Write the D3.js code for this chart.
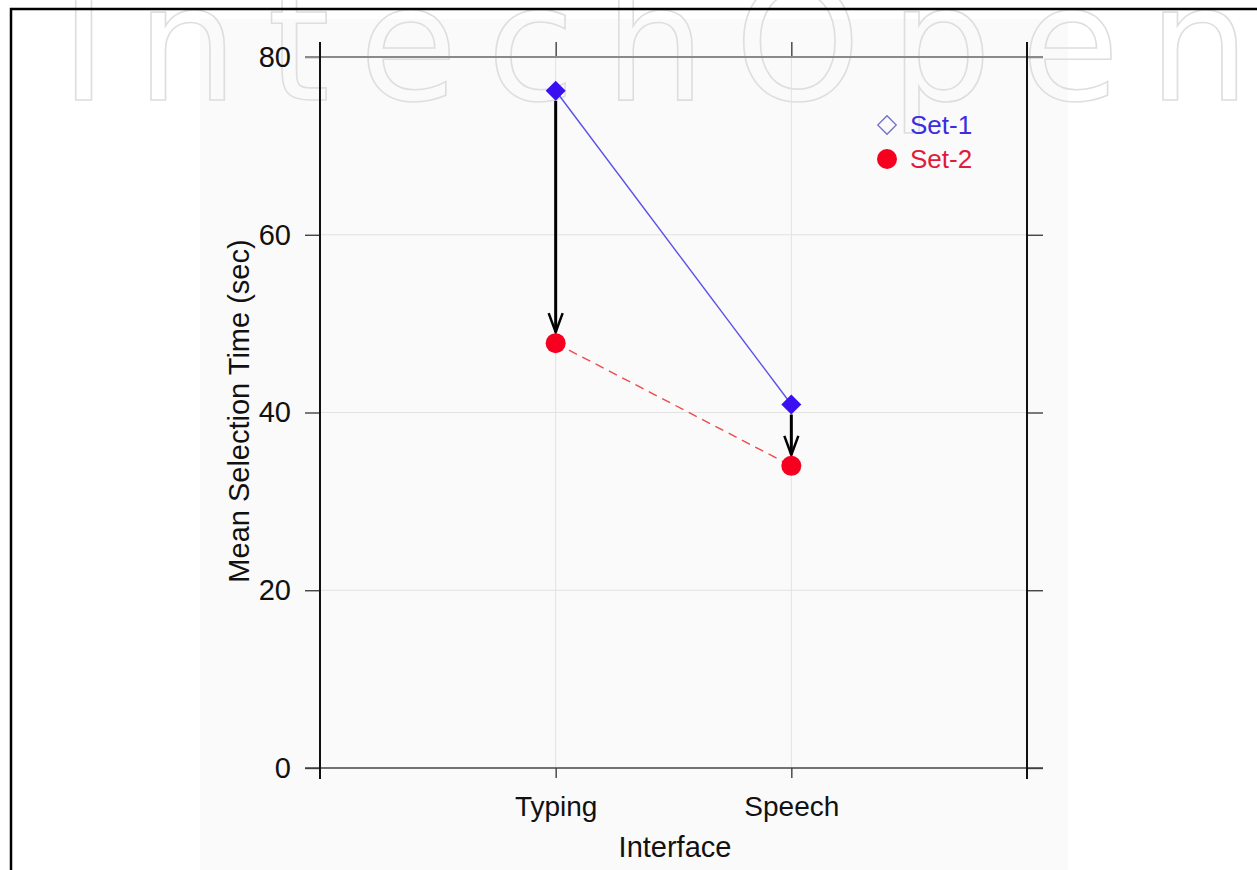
<!DOCTYPE html>
<html>
<head>
<meta charset="utf-8">
<script src="https://cdn.jsdelivr.net/npm/d3@7"></script>
<style>
  body { margin: 0; background: #fff; }
  svg text { font-family: "Liberation Sans", Arial, sans-serif; }
</style>
</head>
<body>
<div id="chart"></div>
<script>
// data
var categories = ["Typing", "Speech"];
var set1 = [76.2, 40.9];
var set2 = [47.8, 34.0];
var seriesNames = ["Set-1", "Set-2"];
var yTicks = [0, 20, 40, 60, 80];

var W = 1257, H = 870;

var svg = d3.select("#chart")
    .append("svg")
    .attr("width", W)
    .attr("height", H);

// gray plot panel
svg.append("rect")
    .attr("x", 200).attr("y", 19)
    .attr("width", 868).attr("height", H - 19)
    .style("fill", "#fafafa");

// watermark (faint outline lettering across the top)
svg.append("text")
    .attr("x", 60).attr("y", 100)
    .attr("font-size", 160)
    .attr("textLength", 1190)
    .attr("lengthAdjust", "spacing")
    .style("font-family", "'DejaVu Sans', sans-serif")
    .style("fill", "none")
    .style("stroke", "#dedede")
    .style("stroke-width", 1.6)
    .text("IntechOpen");

// outer frame
svg.append("rect")
    .attr("x", 11).attr("y", 9)
    .attr("width", W).attr("height", H)
    .style("fill", "none")
    .style("stroke", "#000")
    .style("stroke-width", 2.5);

// scales: categories sit at 1 and 2 on a 0..3 axis
var x = d3.scaleLinear().domain([0, 3]).range([320, 1027]);
var y = d3.scaleLinear().domain([0, 80]).range([768, 57]);

// grid
svg.append("g")
    .selectAll("line")
    .data([20, 40, 60])
    .enter()
    .append("line")
    .attr("x1", x(0)).attr("x2", x(3))
    .attr("y1", d => y(d)).attr("y2", d => y(d))
    .style("stroke", "#e2e2e2");

svg.append("g")
    .selectAll("line")
    .data(categories)
    .enter()
    .append("line")
    .attr("x1", (d, i) => x(i + 1)).attr("x2", (d, i) => x(i + 1))
    .attr("y1", y(80)).attr("y2", y(0))
    .style("stroke", "#e2e2e2");

// left axis
var leftAx = svg.append("g")
    .attr("transform", "translate(" + x(0) + ",0)")
    .call(d3.axisLeft(y).tickValues(yTicks).tickSize(15).tickPadding(14));
leftAx.select(".domain").remove();
leftAx.selectAll(".tick line").style("stroke", "#333").style("stroke-width", 1.3);
leftAx.selectAll(".tick text").attr("font-size", 29).style("fill", "#111");

// right ticks
var rightAx = svg.append("g")
    .attr("transform", "translate(" + x(3) + ",0)")
    .call(d3.axisRight(y).tickValues(yTicks).tickSize(16).tickFormat(""));
rightAx.select(".domain").remove();
rightAx.selectAll(".tick line").style("stroke", "#333").style("stroke-width", 1.3);

// bottom axis
var bottomAx = svg.append("g")
    .attr("transform", "translate(0," + y(0) + ")")
    .call(d3.axisBottom(x).tickValues([1, 2]).tickSize(10).tickPadding(18)
        .tickFormat(d => categories[d - 1]));
bottomAx.select(".domain").remove();
bottomAx.selectAll(".tick line").style("stroke", "#333").style("stroke-width", 1.3);
bottomAx.selectAll(".tick text").attr("font-size", 28).style("fill", "#111");

// top ticks
var topAx = svg.append("g")
    .attr("transform", "translate(0," + y(80) + ")")
    .call(d3.axisTop(x).tickValues([1, 2]).tickSize(15).tickFormat(""));
topAx.select(".domain").remove();
topAx.selectAll(".tick line").style("stroke", "#333").style("stroke-width", 1.3);

// frame lines
svg.append("line")
    .attr("x1", 305).attr("x2", 1043)
    .attr("y1", y(80)).attr("y2", y(80))
    .style("stroke", "#8a8a8a").style("stroke-width", 2);
svg.append("line")
    .attr("x1", 305).attr("x2", 1043)
    .attr("y1", y(0)).attr("y2", y(0))
    .style("stroke", "#444").style("stroke-width", 1.5);
svg.append("g")
    .selectAll("line")
    .data([0, 3])
    .enter()
    .append("line")
    .attr("x1", d => x(d)).attr("x2", d => x(d))
    .attr("y1", 42).attr("y2", 779)
    .style("stroke", "#111").style("stroke-width", 2);

// series lines
svg.append("path")
    .datum(set1)
    .attr("d", d3.line().x((d, i) => x(i + 1)).y(d => y(d)))
    .style("fill", "none")
    .style("stroke", "#5a50e8")
    .style("stroke-width", 1.4);

svg.append("path")
    .datum(set2)
    .attr("d", d3.line().x((d, i) => x(i + 1)).y(d => y(d)))
    .style("fill", "none")
    .style("stroke", "#ee4a4a")
    .style("stroke-width", 1.4)
    .style("stroke-dasharray", "9,6");

// arrows from Set-1 down to Set-2
var arrows = svg.append("g");
categories.forEach(function (c, i) {
    var cx = x(i + 1);
    var y1 = y(set1[i]) + 10, y2 = y(set2[i]) - 11;
    arrows.append("line")
        .attr("x1", cx).attr("x2", cx)
        .attr("y1", y1).attr("y2", y2)
        .style("stroke", "#000").style("stroke-width", 3);
    arrows.append("path")
        .attr("d", "M" + (cx - 7) + "," + (y2 - 19) + "L" + cx + "," + y2 + "L" + (cx + 7) + "," + (y2 - 19))
        .style("fill", "none").style("stroke", "#000").style("stroke-width", 2.5);
});

// markers: square diamonds
var diamond = d3.symbol().type(d3.symbolSquare).size(200);
svg.append("g")
    .selectAll("path")
    .data(set1)
    .enter()
    .append("path")
    .attr("d", diamond)
    .attr("transform", (d, i) => "translate(" + x(i + 1) + "," + y(d) + ") rotate(45)")
    .style("fill", "#3a10f0");

svg.append("g")
    .selectAll("circle")
    .data(set2)
    .enter()
    .append("circle")
    .attr("cx", (d, i) => x(i + 1))
    .attr("cy", d => y(d))
    .attr("r", 10)
    .style("fill", "#f5001e");

// legend
var legend = svg.append("g");
legend.append("path")
    .attr("d", d3.symbol().type(d3.symbolSquare).size(170))
    .attr("transform", "translate(887,125) rotate(45)")
    .style("fill", "none").style("stroke", "#7070cc").style("stroke-width", 1.3);
legend.append("circle")
    .attr("cx", 887).attr("cy", 159).attr("r", 10)
    .style("fill", "#f5001e");
legend.append("text")
    .attr("x", 910).attr("y", 134)
    .attr("font-size", 26)
    .style("fill", "#3a2ee0")
    .text(seriesNames[0]);
legend.append("text")
    .attr("x", 910).attr("y", 168)
    .attr("font-size", 26)
    .style("fill", "#e01a3a")
    .text(seriesNames[1]);

// axis titles
svg.append("text")
    .attr("transform", "translate(249,411) rotate(-90)")
    .attr("text-anchor", "middle")
    .attr("font-size", 29)
    .style("fill", "#111")
    .text("Mean Selection Time (sec)");

svg.append("text")
    .attr("x", 675).attr("y", 857)
    .attr("text-anchor", "middle")
    .attr("font-size", 29)
    .style("fill", "#111")
    .text("Interface");
</script>
</body>
</html>
